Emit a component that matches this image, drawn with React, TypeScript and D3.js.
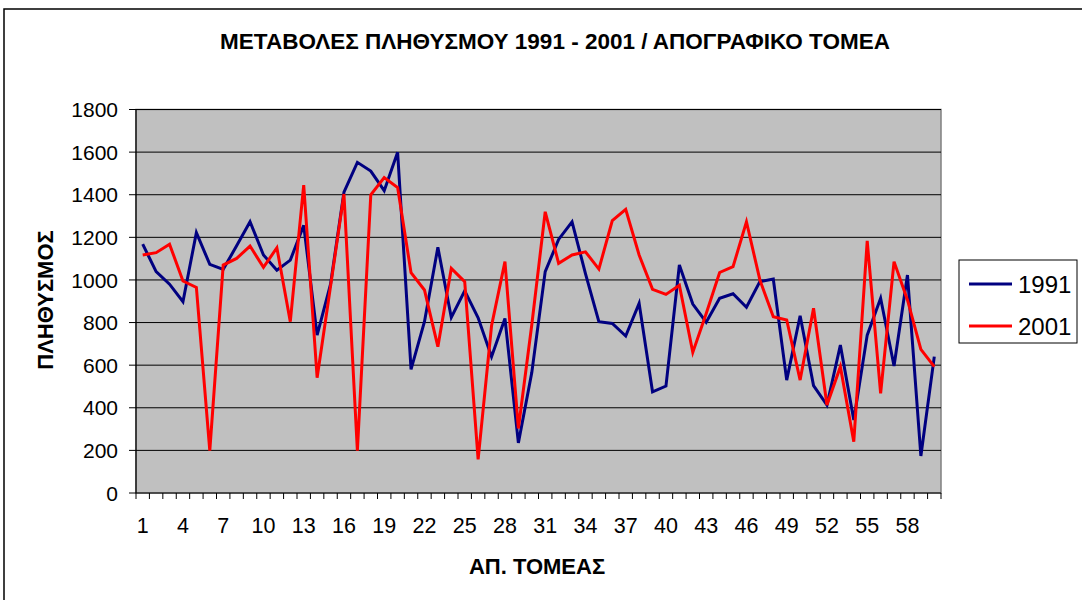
import React from "react";
import * as d3 from "d3";

const categories: number[] = d3.range(1, 61);
const series1991: number[] = [
  1168, 1039, 980, 898, 1222, 1073, 1050, 1160, 1273, 1117,
  1046, 1093, 1256, 741, 980, 1412, 1552, 1511, 1419, 1599,
  580, 804, 1153, 824, 949, 822, 640, 819, 235, 565,
  1039, 1190, 1273, 1030, 804, 796, 737, 890, 475, 502,
  1070, 887, 802, 914, 935, 872, 992, 1004, 530, 832,
  504, 413, 694, 343, 741, 914, 596, 1023, 174, 640,
];
const series2001: number[] = [
  1117, 1128, 1168, 995, 965, 199, 1070, 1101, 1159, 1059,
  1151, 804, 1445, 541, 970, 1403, 199, 1400, 1481, 1434,
  1034, 953, 687, 1054, 992, 158, 785, 1086, 303, 790,
  1320, 1078, 1117, 1132, 1051, 1278, 1331, 1117, 956, 932,
  975, 660, 843, 1035, 1062, 1273, 1000, 827, 812, 530,
  867, 413, 593, 241, 1183, 468, 1086, 906, 674, 593,
];
const seriesNames = ["1991", "2001"];
const seriesColors = ["#000080", "#FF0000"];
const yTicks = [0, 200, 400, 600, 800, 1000, 1200, 1400, 1600, 1800];
const xTickLabels = categories.filter((c) => (c - 1) % 3 === 0);

const title = "ΜΕΤΑΒΟΛΕΣ ΠΛΗΘΥΣΜΟΥ 1991 - 2001 / ΑΠΟΓΡΑΦΙΚΟ ΤΟΜΕΑ";
const yTitle = "ΠΛΗΘΥΣΜΟΣ";
const xTitle = "ΑΠ. ΤΟΜΕΑΣ";

export default function App() {
  const W = 1082, H = 600;
  const L = 136, R = 941, T = 109.5, B = 493;
  const x = d3.scaleBand<number>().domain(categories).range([L, R]);
  const y = d3.scaleLinear().domain([0, 1800]).range([B, T]);
  const cx = (c: number) => (x(c) as number) + x.bandwidth() / 2;
  const line = d3
    .line<number>()
    .x((_, i) => cx(categories[i]))
    .y((d) => y(d));
  const font = "'Liberation Sans', Arial, sans-serif";
  const boundaries = d3.range(0, categories.length + 1).map((i) => L + i * x.step());

  return (
    <svg
      width={W}
      height={H}
      style={{ position: "absolute", left: 0, top: 0, display: "block" }}
      fontFamily={font}
    >
      <rect x={0} y={0} width={W} height={H} fill="#fff" />
      <rect x={4} y={9} width={W + 10} height={H + 10} fill="#fff" stroke="#000" strokeWidth={1.5} />
      <text x={555} y={49} textAnchor="middle" fontWeight="bold" fontSize={22.5}>
        {title}
      </text>
      {/* plot area */}
      <rect x={L} y={T} width={R - L} height={B - T} fill="#C0C0C0" stroke="#808080" strokeWidth={1.5} />
      {yTicks.slice(1).map((t) => (
        <line key={t} x1={L} x2={R} y1={y(t)} y2={y(t)} stroke="#000" strokeWidth={1} />
      ))}
      {/* axes */}
      <line x1={L} x2={L} y1={T} y2={B} stroke="#000" strokeWidth={1.2} />
      <line x1={L} x2={R} y1={B} y2={B} stroke="#000" strokeWidth={1.2} />
      {yTicks.map((t) => (
        <g key={t}>
          <line x1={L - 7} x2={L} y1={y(t)} y2={y(t)} stroke="#000" strokeWidth={1} />
          <text x={118} y={y(t)} dy="0.36em" textAnchor="end" fontSize={21}>
            {t}
          </text>
        </g>
      ))}
      {boundaries.map((bx, i) => (
        <line key={i} x1={bx} x2={bx} y1={B} y2={B + 6} stroke="#000" strokeWidth={1} />
      ))}
      {xTickLabels.map((c) => (
        <text key={c} x={cx(c)} y={533} textAnchor="middle" fontSize={21.5}>
          {c}
        </text>
      ))}
      <text x={537} y={574} textAnchor="middle" fontWeight="bold" fontSize={22}>
        {xTitle}
      </text>
      <text
        transform={`translate(53,300) rotate(-90)`}
        textAnchor="middle"
        fontWeight="bold"
        fontSize={22}
      >
        {yTitle}
      </text>
      {/* series */}
      {[series1991, series2001].map((s, k) => (
        <path
          key={k}
          d={line(s) || ""}
          fill="none"
          stroke={seriesColors[k]}
          strokeWidth={3}
          strokeLinejoin="miter"
          strokeMiterlimit={4}
        />
      ))}
      {/* legend */}
      <rect x={959} y={260} width={118} height={83} fill="#fff" stroke="#000" strokeWidth={1} />
      {seriesNames.map((n, k) => (
        <g key={n}>
          <line
            x1={969}
            x2={1012}
            y1={284 + k * 42}
            y2={284 + k * 42}
            stroke={seriesColors[k]}
            strokeWidth={3}
          />
          <text x={1018} y={284 + k * 42} dy="0.36em" fontSize={24}>
            {n}
          </text>
        </g>
      ))}
    </svg>
  );
}
